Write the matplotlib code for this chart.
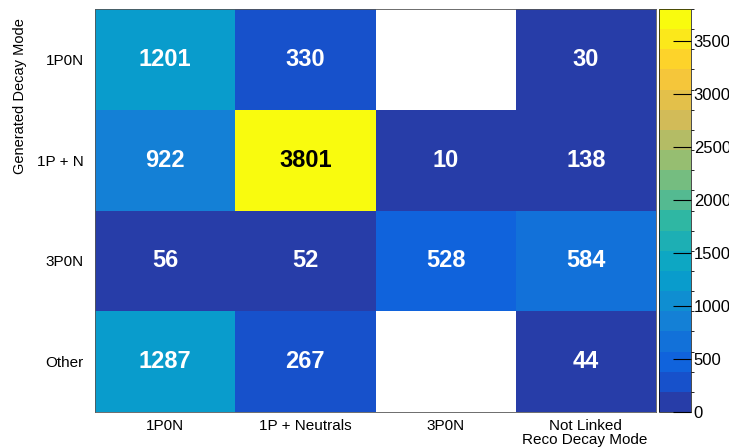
import matplotlib.pyplot as plt
import numpy as np
from matplotlib.colors import LinearSegmentedColormap, ListedColormap, BoundaryNorm

plt.rcParams['font.family'] = ['Liberation Sans', 'DejaVu Sans']

reco_labels = ['1P0N', '1P + Neutrals', '3P0N', 'Not Linked']
gen_labels = ['1P0N', '1P + N', '3P0N', 'Other']
# rows: generated mode (top to bottom), columns: reco mode
counts = [
    [1201, 330, 0, 30],
    [922, 3801, 10, 138],
    [56, 52, 528, 584],
    [1287, 267, 0, 44],
]

# ROOT kBird palette
stops = [0.0, 0.125, 0.25, 0.375, 0.5, 0.625, 0.75, 0.875, 1.0]
red = [0.2082, 0.0592, 0.0780, 0.0232, 0.1802, 0.5301, 0.8186, 0.9956, 0.9764]
green = [0.1664, 0.3599, 0.5041, 0.6419, 0.7178, 0.7492, 0.7328, 0.7862, 0.9832]
blue = [0.5293, 0.8684, 0.8385, 0.7914, 0.6425, 0.4662, 0.3499, 0.1968, 0.0539]
bird = LinearSegmentedColormap.from_list(
    'bird', [(s, (r, g, b)) for s, r, g, b in zip(stops, red, green, blue)])

# 20 contour levels, colour picked the way THistPainter does it
ncont = 20
ncolors = 255
data = np.array(counts, dtype=float)
zmax = data.max()
level_cols = [bird(int((k + 0.99) * ncolors / ncont) / (ncolors - 1)) for k in range(ncont)]
cmap = ListedColormap(level_cols)
norm = BoundaryNorm(np.linspace(0, zmax, ncont + 1), ncont)

fig = plt.figure(figsize=(7.29, 4.48), dpi=100)
ax = fig.add_axes([95 / 729, 1 - 412 / 448, 561 / 729, 403 / 448])
cax = fig.add_axes([659 / 729, 1 - 412 / 448, 32 / 729, 403 / 448])

nr, nc = data.shape
masked = np.ma.masked_equal(data, 0)
mesh = ax.pcolormesh(np.arange(nc + 1), np.arange(nr + 1), masked[::-1],
                     cmap=cmap, norm=norm)
ax.set_xlim(0, nc)
ax.set_ylim(0, nr)

for i in range(nr):
    for j in range(nc):
        v = counts[i][j]
        if v == 0:
            continue
        col = 'black' if v == zmax else 'white'
        ax.text(j + 0.5, nr - 1 - i + 0.5, str(v), ha='center', va='center',
                color=col, fontsize=17, fontweight='bold')

ax.set_xticks(np.arange(nc) + 0.5)
ax.set_xticklabels(reco_labels, fontsize=11)
ax.set_yticks(np.arange(nr) + 0.5)
ax.set_yticklabels(gen_labels[::-1], fontsize=11)
ax.tick_params(axis='x', length=0, pad=5)
ax.tick_params(axis='y', length=0, pad=8)
for s in ax.spines.values():
    s.set_linewidth(0.6)
    s.set_color('#555555')

fig.text(647 / 729, 1 - 440 / 448, 'Reco Decay Mode', ha='right', va='center',
         fontsize=11)
fig.text(20 / 729, 1 - 18 / 448, 'Generated Decay Mode', ha='center', va='top',
         rotation=90, fontsize=10.5)

cb = fig.colorbar(mesh, cax=cax, ticks=np.arange(0, 3501, 500))
cb.outline.set_linewidth(0.5)
cb.ax.tick_params(direction='in', length=13, width=0.8, labelsize=12, pad=2)

fig.savefig('out.png', dpi=100)
